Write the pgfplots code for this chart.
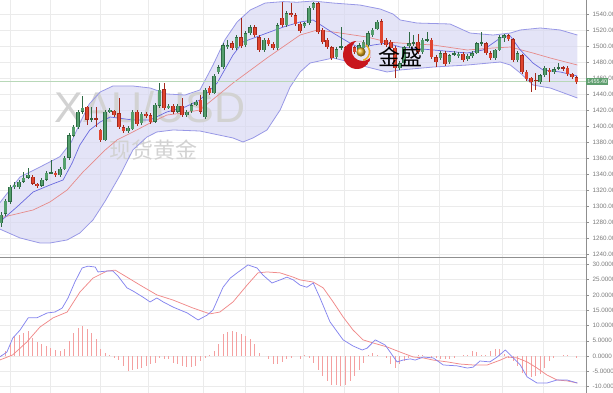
\documentclass[border=0pt]{standalone}
\usepackage{fontspec}
\setmainfont{Liberation Sans}
\newfontfamily\cjk{Noto Sans CJK SC}
\usepackage{pgfplots}
\pgfplotsset{compat=1.18}
\usepackage{pgfplotstable}
\usepgfplotslibrary{fillbetween}

\definecolor{gup}{HTML}{559F6D}
\definecolor{gupd}{HTML}{2F6B45}
\definecolor{rdn}{HTML}{E0442F}
\definecolor{rdnd}{HTML}{A5291C}
\definecolor{bandline}{HTML}{9898E6}
\definecolor{bandfill}{HTML}{D6D6F2}
\definecolor{maline}{HTML}{6A6ADF}
\definecolor{midline}{HTML}{E68A8A}
\definecolor{gridc}{HTML}{EBEBEB}
\definecolor{axisc}{HTML}{8F8F8F}
\definecolor{tickc}{HTML}{7A7A7A}
\definecolor{macdb}{HTML}{8585EE}
\definecolor{macdr}{HTML}{F08A8A}
\definecolor{histc}{HTML}{F4A0A0}
\definecolor{pricebox}{HTML}{5E9E6E}
\definecolor{priceline}{HTML}{B8D8B8}
\definecolor{wm}{HTML}{D2D2D2}
\definecolor{logored}{HTML}{C8161D}
\definecolor{logogold}{HTML}{E8B020}

% candles: i open high low close
\pgfplotstableread{
i o h l c
0 1279.1 1292.9 1274.1 1289.1
1 1290.4 1309.0 1288.0 1306.6
2 1305.4 1326.0 1303.0 1324.1
3 1324.1 1330.4 1322.0 1326.6
4 1324.1 1333.0 1322.0 1330.4
5 1330.4 1342.9 1329.0 1335.4
6 1335.4 1347.9 1334.0 1339.1
9 1325.4 1335.0 1324.0 1332.9
10 1332.9 1344.0 1331.0 1341.6
11 1341.4 1357.9 1340.0 1342.6
13 1339.1 1349.0 1337.0 1346.6
14 1346.6 1363.0 1345.0 1360.4
15 1360.4 1391.0 1358.0 1389.1
16 1387.9 1402.0 1386.0 1399.1
17 1399.1 1420.0 1397.0 1417.9
18 1417.9 1437.9 1416.0 1422.9
20 1408.4 1424.1 1405.0 1409.6
23 1382.9 1420.0 1381.0 1417.9
24 1419.1 1423.0 1417.0 1420.4
28 1394.1 1400.0 1392.0 1397.9
29 1396.6 1420.0 1395.0 1417.9
31 1404.1 1418.0 1402.0 1415.4
34 1405.4 1429.0 1404.0 1426.6
35 1425.4 1454.1 1423.0 1445.4
37 1424.1 1428.0 1421.0 1425.4
39 1417.9 1428.0 1416.0 1425.4
41 1414.1 1420.0 1412.0 1417.9
42 1419.1 1429.0 1417.0 1426.6
43 1426.6 1433.0 1425.0 1430.4
45 1411.6 1448.0 1409.0 1445.4
47 1441.6 1465.0 1440.0 1462.9
48 1467.9 1477.0 1465.0 1474.1
49 1474.1 1504.0 1472.0 1501.6
50 1499.1 1507.9 1497.0 1501.6
52 1497.9 1514.0 1495.0 1511.6
54 1501.6 1519.0 1499.0 1516.6
55 1516.6 1527.0 1514.0 1524.1
58 1495.4 1510.0 1493.0 1507.9
61 1497.9 1529.0 1496.0 1526.6
63 1526.6 1544.0 1524.0 1541.6
67 1525.4 1531.0 1523.0 1529.1
68 1529.1 1550.0 1527.0 1547.9
69 1547.9 1556.0 1546.0 1554.1
74 1486.6 1499.0 1484.0 1496.6
75 1498.4 1524.1 1496.0 1499.4
77 1492.9 1501.0 1491.0 1499.1
79 1495.4 1504.0 1493.0 1501.6
80 1497.9 1508.0 1496.0 1505.4
81 1501.6 1519.0 1499.0 1516.6
82 1514.1 1523.0 1512.0 1520.4
83 1521.6 1533.0 1520.0 1530.4
88 1472.9 1482.0 1471.0 1479.1
89 1479.1 1501.0 1477.0 1499.1
90 1500.4 1518.0 1498.0 1504.1
91 1503.9 1514.0 1501.0 1504.9
93 1492.9 1510.0 1491.0 1507.9
94 1507.6 1518.0 1505.0 1508.6
97 1485.4 1494.0 1483.0 1491.6
99 1480.4 1491.0 1478.0 1489.1
100 1490.2 1494.0 1488.0 1491.1
101 1487.9 1493.0 1486.0 1490.4
103 1484.1 1490.0 1482.0 1487.9
104 1487.9 1494.0 1486.0 1491.6
105 1491.6 1506.0 1490.0 1504.1
106 1503.4 1517.9 1501.0 1504.4
109 1485.4 1497.0 1483.0 1495.4
110 1495.4 1514.0 1494.0 1511.6
111 1510.4 1516.0 1505.0 1514.1
114 1482.9 1494.0 1481.0 1491.6
119 1455.4 1466.0 1453.0 1464.1
120 1464.1 1475.0 1462.0 1472.9
122 1467.9 1474.0 1466.0 1471.6
123 1472.2 1479.1 1470.0 1473.1
}\upc

\pgfplotstableread{
i o h l c
7 1336.6 1339.0 1326.0 1327.9
8 1327.9 1329.0 1323.0 1325.4
12 1341.6 1344.0 1337.0 1339.1
19 1424.1 1426.0 1401.6 1407.9
21 1409.6 1424.0 1399.0 1408.6
22 1395.4 1397.0 1380.0 1382.9
25 1419.1 1421.0 1412.0 1414.1
26 1416.6 1435.4 1397.0 1399.1
27 1399.1 1401.0 1392.0 1394.1
30 1417.9 1420.0 1400.0 1402.9
32 1415.4 1418.0 1411.0 1412.9
33 1414.1 1416.0 1403.0 1405.4
36 1446.6 1454.0 1420.0 1422.9
38 1425.4 1428.0 1415.0 1417.9
40 1425.4 1435.0 1412.0 1414.1
44 1432.9 1439.0 1415.0 1417.9
46 1447.9 1450.0 1439.0 1441.6
51 1504.1 1507.0 1495.0 1497.9
53 1511.6 1535.4 1498.0 1500.4
56 1524.1 1527.0 1512.0 1514.1
57 1511.6 1514.0 1493.0 1495.4
59 1507.9 1510.0 1500.0 1502.9
60 1502.9 1505.0 1496.0 1497.9
62 1535.4 1555.4 1524.0 1526.6
64 1541.6 1554.1 1537.0 1539.1
65 1539.1 1542.0 1525.0 1527.9
66 1527.9 1530.0 1517.0 1519.1
70 1554.1 1556.0 1515.0 1517.9
71 1520.4 1523.0 1503.0 1505.4
72 1507.9 1510.0 1497.0 1499.1
73 1499.1 1501.0 1483.0 1485.4
76 1499.1 1501.0 1484.0 1486.6
78 1499.1 1501.0 1490.0 1492.9
84 1531.6 1534.0 1502.0 1504.1
85 1507.9 1510.0 1499.0 1501.6
86 1505.4 1508.0 1496.0 1497.9
87 1497.9 1500.0 1461.0 1472.9
92 1505.4 1515.0 1490.0 1492.9
95 1507.9 1510.0 1484.0 1486.6
96 1486.6 1489.0 1474.1 1480.4
98 1491.6 1494.0 1476.0 1477.9
102 1490.4 1493.0 1481.0 1482.9
107 1504.1 1506.0 1489.0 1491.6
108 1491.6 1494.0 1483.0 1485.4
112 1514.1 1516.0 1507.0 1509.1
113 1509.1 1511.0 1480.0 1482.9
115 1489.1 1491.0 1466.0 1467.9
116 1467.9 1470.0 1457.0 1459.1
117 1460.4 1462.0 1442.9 1455.4
118 1458.0 1466.6 1445.4 1457.0
121 1470.4 1473.0 1456.0 1467.9
124 1473.1 1476.0 1469.0 1472.2
125 1472.9 1475.0 1463.0 1465.4
126 1465.4 1467.0 1459.0 1461.6
127 1461.6 1463.0 1453.0 1455.4
}\dnc

\pgfplotstableread{
i p
-0.3 1304.1
4.2 1336.6
8.6 1349.1
13.0 1362.0
15.5 1380.0
17.5 1405.0
19.5 1428.0
21.9 1442.9
24.7 1450.4
29.1 1450.4
32.9 1447.9
36.6 1440.4
40.6 1439.1
43.9 1445.4
46.8 1476.6
49.4 1507.9
52.1 1530.4
55.0 1545.4
58.3 1554.1
62.3 1555.9
65.3 1555.1
68.9 1556.6
73.3 1554.1
79.2 1551.6
83.7 1546.6
86.5 1540.4
88.1 1532.9
91.8 1529.1
99.1 1527.9
103.5 1516.6
108.6 1514.1
112.4 1516.6
114.6 1520.4
119.0 1522.9
123.4 1520.4
127.2 1514.1
}\upperband

\pgfplotstableread{
i p
-0.3 1285.4
7.1 1295.4
10.8 1305.4
14.6 1320.4
18.1 1342.9
23.0 1370.4
25.6 1382.9
29.1 1392.9
32.9 1404.1
36.6 1414.1
40.2 1416.6
43.9 1420.4
51.2 1454.1
58.7 1485.4
66.0 1514.1
69.8 1520.4
73.3 1517.9
80.8 1511.6
85.2 1505.4
88.1 1504.1
95.4 1501.6
102.9 1495.4
108.6 1497.9
112.4 1499.1
117.4 1491.6
121.2 1485.4
127.2 1476.6
}\midband

\pgfplotstableread{
i p
-0.3 1271.6
4.2 1260.4
8.6 1254.1
10.8 1254.1
14.6 1257.9
17.4 1266.6
20.3 1282.9
23.0 1306.6
26.3 1339.1
29.1 1370.4
32.2 1386.6
34.4 1392.9
38.0 1395.4
43.9 1394.1
51.2 1385.4
53.4 1380.4
55.6 1385.4
58.7 1395.4
61.6 1420.4
63.8 1449.1
66.0 1467.9
68.2 1479.1
73.3 1485.4
77.0 1480.4
80.8 1474.1
85.2 1467.9
88.1 1470.4
95.4 1474.1
102.9 1476.6
110.2 1480.4
112.4 1476.6
114.6 1466.6
117.4 1451.6
121.2 1447.9
127.2 1435.4
}\lowerband

\pgfplotstableread{
i p
-0.3 1280.4
3.5 1299.1
7.1 1317.9
10.8 1326.6
13.7 1332.9
15.7 1354.1
17.4 1376.6
19.6 1395.4
21.9 1405.4
24.1 1411.6
29.1 1407.9
32.9 1407.9
36.6 1417.9
40.6 1424.1
43.9 1432.9
47.7 1454.1
51.2 1489.1
53.4 1505.4
58.7 1516.6
62.3 1524.1
66.0 1530.4
68.9 1532.9
73.3 1516.6
77.0 1504.1
79.2 1497.9
82.1 1501.6
85.2 1504.1
88.1 1499.1
95.4 1495.4
102.9 1491.6
106.4 1495.4
110.2 1510.4
112.4 1512.9
114.6 1495.4
117.4 1479.1
119.6 1470.4
123.4 1467.9
127.2 1462.9
}\maline

\pgfplotstableread{
i v
-0.3 -0.3
1.3 1.3
2.6 5.9
4.2 8.5
6.0 12.5
7.9 12.5
10.2 14.1
11.9 14.4
13.5 15.7
14.8 19.0
16.3 24.2
17.9 28.8
19.2 29.4
20.8 29.1
21.4 27.5
23.4 27.8
24.7 27.8
25.8 26.2
27.8 22.3
29.1 21.3
31.3 19.3
32.9 17.7
34.4 19.0
35.8 17.7
38.0 16.0
41.1 14.1
43.5 11.8
45.5 13.4
46.8 15.1
49.0 22.5
50.6 25.5
52.1 27.2
54.5 29.8
56.5 28.8
57.8 26.5
59.8 23.9
61.6 24.9
63.1 25.8
64.5 24.9
66.0 23.2
67.5 22.5
68.9 23.9
70.4 19.0
72.6 11.2
75.5 5.3
77.7 3.3
79.7 2.0
80.8 2.6
82.6 5.3
84.8 3.6
87.4 -1.9
88.7 -1.3
90.3 -0.9
91.4 -1.3
93.2 -0.3
95.4 -0.6
97.6 -2.9
100.7 -3.2
102.9 -3.9
104.2 -3.6
105.7 -1.6
107.9 -1.9
109.5 -0.3
111.3 2.0
112.4 0.4
114.6 -2.9
116.1 -6.8
118.3 -8.8
120.5 -8.8
122.7 -7.8
124.9 -7.8
127.2 -8.8
}\macd

\pgfplotstableread{
i v
-0.3 -1.3
2.6 0.4
5.7 4.6
8.6 9.5
11.5 12.5
14.6 14.4
17.4 20.9
20.3 25.5
23.4 27.8
25.2 28.1
27.8 25.8
30.7 23.2
34.4 20.0
38.0 18.3
42.4 15.7
46.1 13.8
48.3 14.4
51.2 17.7
54.3 23.2
56.7 27.2
58.7 27.5
61.6 27.2
64.5 25.8
66.0 24.9
68.9 24.2
71.1 22.3
73.3 17.7
75.5 12.8
77.7 8.5
79.9 5.3
82.1 4.3
85.2 3.0
88.1 1.3
91.0 -0.3
93.2 -0.6
95.4 -1.3
98.5 -1.9
101.3 -2.6
104.2 -2.9
107.3 -2.9
110.2 -1.3
111.7 -0.3
113.9 -0.6
116.1 -1.9
118.3 -3.9
120.5 -6.2
122.7 -7.8
124.9 -8.1
127.2 -8.8
}\signal

\pgfplotstableread{
i v
0 0.3
1 1.6
2 4.0
3 6.5
4 7.0
5 7.6
6 8.2
7 6.0
8 4.7
9 4.0
10 3.3
11 2.7
12 1.9
13 1.6
14 2.2
15 4.9
16 7.6
17 9.3
18 9.8
19 9.0
20 7.6
21 5.5
22 2.2
23 1.1
24 0.5
25 -0.5
26 -1.4
27 -3.3
28 -4.9
29 -4.4
30 -4.1
31 -3.8
32 -3.3
33 -2.7
34 -2.2
35 -0.5
36 -0.8
37 -1.1
38 -2.2
39 -2.7
40 -3.3
41 -3.6
42 -3.6
43 -3.3
44 -1.6
45 -0.5
46 0.5
47 1.6
48 3.8
49 7.1
50 8.0
51 8.2
52 8.0
53 7.1
54 6.5
55 5.5
56 4.0
57 1.1
58 0.0
59 -0.8
60 -2.7
61 -2.7
62 -1.9
63 -1.1
64 -0.5
65 0.0
66 -1.1
67 0.5
68 -0.5
69 -2.2
70 -4.4
71 -6.5
72 -8.2
73 -9.3
74 -9.6
75 -9.8
76 -9.3
77 -8.2
78 -6.5
79 -4.4
80 -2.2
81 0.5
82 1.1
83 0.5
84 0.0
85 -0.5
86 -2.7
87 -3.8
88 -2.7
89 -1.6
90 -0.5
91 0.0
92 0.5
93 0.5
94 0.0
95 -0.5
96 -0.5
97 -0.8
98 -1.1
99 -1.1
100 -0.5
101 0.0
102 0.5
103 0.5
104 1.6
105 1.4
106 0.5
107 0.5
108 1.6
109 2.2
110 2.2
111 0.8
112 -0.5
113 -1.6
114 -3.3
115 -5.4
116 -6.5
117 -6.9
118 -6.5
119 -6.0
120 -3.8
121 -1.6
122 -0.5
123 0.0
124 0.3
125 0.3
126 0.0
127 -0.5
}\hist

\pgfplotsset{
  panel/.style={
    scale only axis, width=586pt,
    xmin=-0.22, xmax=129.1,
    xtick={2.0,10.8,21.9,32.5,44.6,53.9,66.7,75.7,87.6,96.7,110.6,119.6},
    xticklabels={}, x tick style={draw=none},
    xmajorgrids, ymajorgrids,
    grid style={gridc, line width=0.5pt},
    axis y line*=right,
    y axis line style={draw=axisc, line width=0.6pt, -},
    every outer y axis line/.append style={-},
    every outer x axis line/.append style={-},
    tick align=outside, major tick length=3pt,
    y tick style={draw=axisc, line width=0.5pt},
    /pgf/number format/assume math mode=true,
    tick label style={font=\fontsize{6.3}{7}\selectfont, text=tickc},
    yticklabel style={/pgf/number format/fixed, /pgf/number format/fixed zerofill, /pgf/number format/1000 sep={}},
    every axis plot/.append style={line join=round},
  },
  wick/.style={draw=none, mark=none, error bars/.cd, y dir=both, y explicit, error mark=none, error bar style={draw=#1, solid, line width=0.6pt}},
  body/.style 2 args={draw=none, mark=none, error bars/.cd, y dir=both, y explicit, error mark=none, error bar style={draw=#2, solid, line width=#1}},
}

\begin{document}
\begin{tikzpicture}

% price panel
\begin{axis}[panel,
  at={(0pt,136pt)}, anchor=south west, height=257pt,
  ymin=1236.6, ymax=1557.9,
  ytick={1240,1260,...,1560},
  yticklabel style={/pgf/number format/precision=2},
  axis x line*=bottom, x axis line style={draw=none, -},
]
\node[text=wm, font=\fontsize{43}{43}\selectfont] at (axis cs:32.9,1424) {XAU/USD};
\node[text=wm, font=\cjk\fontsize{22}{22}\selectfont] at (axis cs:33.6,1370) {现货黄金};

\addplot[name path=U, draw=none] table[x=i, y=p] {\upperband};
\addplot[name path=L, draw=none] table[x=i, y=p] {\lowerband};
\addplot[bandfill, fill opacity=0.65] fill between[of=U and L];
\addplot[bandline, line width=0.8pt] table[x=i, y=p] {\upperband};
\addplot[bandline, line width=0.8pt] table[x=i, y=p] {\lowerband};
\addplot[midline, line width=0.7pt] table[x=i, y=p] {\midband};
\addplot[maline, line width=0.7pt] table[x=i, y=p] {\maline};

\addplot[priceline, line width=0.8pt] coordinates {(-1,1456.5) (131,1456.5)};

% wicks
\addplot[wick=gupd] table[x=i, y expr={(\thisrow{h}+\thisrow{l})/2}, y error expr={(\thisrow{h}-\thisrow{l})/2}] {\upc};
\addplot[wick=rdnd] table[x=i, y expr={(\thisrow{h}+\thisrow{l})/2}, y error expr={(\thisrow{h}-\thisrow{l})/2}] {\dnc};
% bodies
\addplot[body={3.6pt}{gupd}] table[x=i, y expr={(\thisrow{o}+\thisrow{c})/2}, y error expr={abs(\thisrow{c}-\thisrow{o})/2+0.45}] {\upc};
\addplot[body={2.4pt}{gup}] table[x=i, y expr={(\thisrow{o}+\thisrow{c})/2}, y error expr={max(abs(\thisrow{c}-\thisrow{o})/2-0.6,0)}] {\upc};
\addplot[body={3.6pt}{rdnd}] table[x=i, y expr={(\thisrow{o}+\thisrow{c})/2}, y error expr={abs(\thisrow{c}-\thisrow{o})/2+0.45}] {\dnc};
\addplot[body={2.4pt}{rdn}] table[x=i, y expr={(\thisrow{o}+\thisrow{c})/2}, y error expr={max(abs(\thisrow{c}-\thisrow{o})/2-0.6,0)}] {\dnc};
\end{axis}

% MACD panel
\begin{axis}[panel,
  at={(0pt,0pt)}, anchor=south west, height=136pt,
  ymin=-12.06, ymax=32.39,
  ytick={-10,-5,...,30},
  yticklabel style={/pgf/number format/precision=4},
  axis x line*=top, x axis line style={draw=axisc, line width=0.9pt, -},
]
\addplot[ycomb, histc, line width=0.75pt, mark=none] table[x=i, y=v] {\hist};
\addplot[macdr, line width=0.75pt] table[x=i, y=v] {\signal};
\addplot[macdb, line width=0.75pt] table[x=i, y=v] {\macd};
\end{axis}

% current price tag
\node[fill=pricebox, text=white, font=\fontsize{5.5}{6}\selectfont, inner sep=1.2pt, anchor=west] at (586pt,311.5pt) {1455.40};

% logo
\begin{scope}
\clip (357pt,338pt) circle (14pt);
\fill[logored, even odd rule] (357pt,338pt) circle (14pt) (362.5pt,343pt) circle (11pt);
\end{scope}
\draw[logogold, line width=1.4pt] (361pt,341pt) ++(55:8.5pt) arc (55:-75:8.5pt);
\shade[ball color=logogold] (361pt,341pt) circle (4.6pt);
\node[font=\cjk\fontsize{22}{22}\selectfont, text=black] at (400pt,336pt) {金盛};

\pgfresetboundingbox
\path[use as bounding box] (0pt,0pt) rectangle (613pt,393pt);
\end{tikzpicture}
\end{document}
